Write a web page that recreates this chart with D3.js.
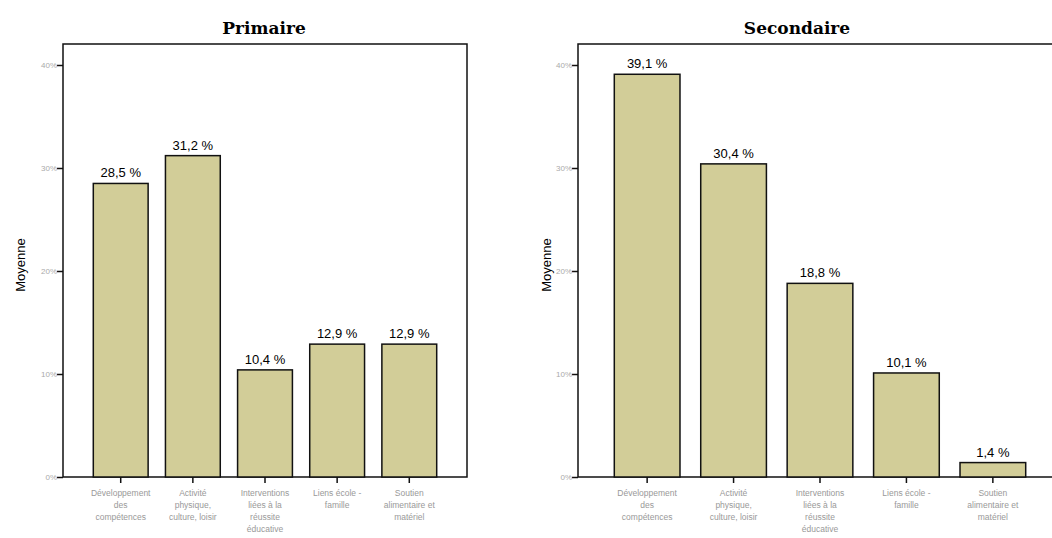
<!DOCTYPE html>
<html>
<head>
<meta charset="utf-8">
<script src="https://cdn.jsdelivr.net/npm/d3@7"></script>
<style>
  body { margin: 0; background: #fff; }
  svg { display: block; }
</style>
</head>
<body>
<script>
var W = 1052, H = 538;

var categories = [
  ["Développement", "des", "compétences"],
  ["Activité", "physique,", "culture, loisir"],
  ["Interventions", "liées à la", "réussite", "éducative"],
  ["Liens école -", "famille"],
  ["Soutien", "alimentaire et", "matériel"]
];
var primaireValues = [28.5, 31.2, 10.4, 12.9, 12.9];
var secondaireValues = [39.1, 30.4, 18.8, 10.1, 1.4];
var yTicks = [0, 10, 20, 30, 40];

var svg = d3.select("body").append("svg")
    .attr("width", W)
    .attr("height", H);

// one panel per school level
var panels = [
  { title: "Primaire", values: primaireValues, left: 63, right: 467, titleX: 264, yLabelX: 25 },
  { title: "Secondaire", values: secondaireValues, left: 578, right: 1062, titleX: 797, yLabelX: 551 }
];

var frameTop = 44, frameBottom = 477;

panels.forEach(function (p) {
    var g = svg.append("g");

    var xScale = d3.scaleBand()
        .domain(d3.range(categories.length))
        .range([p.left, p.right])
        .paddingInner(0.24)
        .paddingOuter(0.42);

    var yScale = d3.scaleLinear()
        .domain([0, 40])
        .range([frameBottom, 65]);

    // frame
    g.append("rect")
        .attr("x", p.left)
        .attr("y", frameTop)
        .attr("width", p.right - p.left)
        .attr("height", frameBottom - frameTop)
        .attr("fill", "none")
        .attr("stroke", "#111")
        .attr("stroke-width", 1.5);

    // bars
    g.selectAll("rect.bar")
        .data(p.values)
        .enter()
        .append("rect")
        .attr("class", "bar")
        .attr("x", function (d, i) { return xScale(i); })
        .attr("y", function (d) { return yScale(d); })
        .attr("width", xScale.bandwidth())
        .attr("height", function (d) { return frameBottom - yScale(d); })
        .attr("fill", "#d2cd98")
        .attr("stroke", "#111")
        .attr("stroke-width", 1.5);

    // value labels
    g.selectAll("text.val")
        .data(p.values)
        .enter()
        .append("text")
        .attr("class", "val")
        .attr("x", function (d, i) { return xScale(i) + xScale.bandwidth() / 2; })
        .attr("y", function (d) { return yScale(d) - 6; })
        .attr("text-anchor", "middle")
        .attr("font-family", "Liberation Sans, Arial, sans-serif")
        .attr("font-size", 13)
        .attr("fill", "#000")
        .text(function (d) { return String(d).replace(".", ",") + " %"; });

    // y label (drawn before tick labels so they stay visible)
    g.append("text")
        .attr("transform", "translate(" + p.yLabelX + ",265) rotate(-90)")
        .attr("text-anchor", "middle")
        .attr("font-family", "Liberation Sans, Arial, sans-serif")
        .attr("font-size", 13)
        .attr("fill", "#000")
        .text("Moyenne");

    // y axis
    var yAxis = d3.axisLeft(yScale)
        .tickValues(yTicks)
        .tickSize(6)
        .tickFormat(function (d) { return d + "%"; });

    var ya = g.append("g")
        .attr("transform", "translate(" + p.left + ",0)")
        .call(yAxis);
    ya.select(".domain").remove();
    ya.selectAll("line").attr("stroke", "#111").attr("stroke-width", 1.5);
    ya.selectAll("text")
        .attr("font-family", "Liberation Sans, Arial, sans-serif")
        .attr("font-size", 8)
        .attr("fill", "#aaa")
        .attr("x", -6);

    // x axis
    var xAxis = d3.axisBottom(xScale).tickSize(6).tickFormat("");
    var xa = g.append("g")
        .attr("transform", "translate(0," + frameBottom + ")")
        .call(xAxis);
    xa.select(".domain").remove();
    xa.selectAll("line").attr("stroke", "#111").attr("stroke-width", 1.5);

    // category labels (multi-line)
    categories.forEach(function (lines, i) {
        var cx = xScale(i) + xScale.bandwidth() / 2;
        var t = g.append("text")
            .attr("x", cx)
            .attr("y", 496)
            .attr("text-anchor", "middle")
            .attr("font-family", "Liberation Sans, Arial, sans-serif")
            .attr("font-size", 8.5)
            .attr("fill", "#999");
        lines.forEach(function (l, k) {
            t.append("tspan")
                .attr("x", cx)
                .attr("dy", k === 0 ? 0 : 12)
                .text(l);
        });
    });

    // title
    g.append("text")
        .attr("x", p.titleX)
        .attr("y", 34)
        .attr("text-anchor", "middle")
        .attr("font-family", "DejaVu Serif, serif")
        .attr("font-weight", "bold")
        .attr("font-size", 17)
        .attr("fill", "#000")
        .text(p.title);
});
</script>
</body>
</html>
